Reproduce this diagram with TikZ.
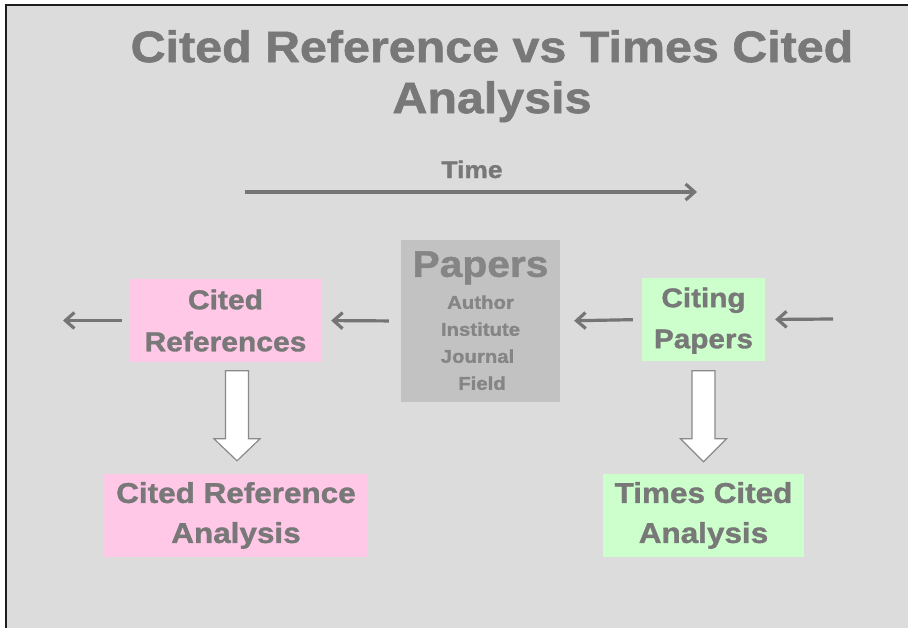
\documentclass[tikz,border=0pt]{standalone}
\usepackage{fontspec}
\setmainfont{Liberation Sans}[FakeStretch=1.1,BoldFeatures={FakeBold=1.3}]
\usetikzlibrary{arrows.meta,calc}
\definecolor{bgc}{HTML}{DCDCDC}
\definecolor{txtc}{HTML}{787878}
\definecolor{paptxt}{HTML}{858585}
\definecolor{papbox}{HTML}{C2C2C2}
\definecolor{pinkc}{HTML}{FFC8E6}
\definecolor{greenc}{HTML}{CCFFCC}
\definecolor{arrc}{HTML}{757575}
\definecolor{framec}{HTML}{1E1E1E}
\begin{document}
\begin{tikzpicture}[x=1pt,y=-1pt,
  txt/.style={text=txtc,inner sep=0pt,anchor=base},
  box/.style={inner sep=0pt,text=txtc,align=center},
  conn/.style={draw=arrc,line width=3.2pt,-{Straight Barb[length=9pt,width=16pt]}},
  blockarr/.style={draw=arrc!85,fill=white,line width=1.2pt,line join=miter}]
\useasboundingbox (0,0) rectangle (908,630);
\fill[white] (0,0) rectangle (908,630);
\fill[bgc] (6,5) rectangle (908,628);
\draw[framec,line width=2pt] (6,628) -- (6,5) -- (908,5);

% title
\node[box,anchor=north,font=\bfseries\fontsize{44}{51}\selectfont] (title) at (492,30)
  {Cited Reference vs Times Cited\\Analysis};
% time
\node[txt,font=\bfseries\fontsize{24}{24}\selectfont] (time) at (472,178) {Time};
\coordinate (tstart) at (245,192);
\coordinate (tend) at (697,192);
\draw[conn] (tstart) -- (tend);

% boxes
\node[box,fill=pinkc,minimum width=191pt,minimum height=83pt,
  font=\bfseries\fontsize{27.3}{42}\selectfont] (citedref) at (225.5,320.5) {Cited\\References};
\node[box,fill=greenc,minimum width=123pt,minimum height=83pt,
  font=\bfseries\fontsize{27}{41}\selectfont] (citing) at (703.5,319.5) {\rule{0pt}{22pt}Citing\\Papers};
\node[box,fill=papbox,minimum width=159pt,minimum height=162pt] (papers) at (480.5,321) {};
\node[txt,text=paptxt,font=\bfseries\fontsize{37}{37}\selectfont] (ptitle) at ($(papers.north)+(0,37)$) {Papers};
\node[txt,text=paptxt,font=\bfseries\fontsize{18.5}{27}\selectfont] (pauthor) at ($(papers.north)+(0,69)$) {Author};
\node[txt,text=paptxt,font=\bfseries\fontsize{18.5}{27}\selectfont] (pinst) at ($(papers.north)+(0,96)$) {Institute};
\node[txt,text=paptxt,font=\bfseries\fontsize{18.5}{27}\selectfont] (pjour) at ($(papers.north)+(-3,123)$) {Journal};
\node[txt,text=paptxt,font=\bfseries\fontsize{18.5}{27}\selectfont] (pfield) at ($(papers.north)+(1.5,150)$) {Field};
\node[box,fill=pinkc,minimum width=264pt,minimum height=83pt,
  font=\bfseries\fontsize{28.6}{40}\selectfont] (cra) at (236,515.5) {Cited Reference\\Analysis};
\node[box,fill=greenc,minimum width=201pt,minimum height=83pt,
  font=\bfseries\fontsize{28.6}{40}\selectfont] (tca) at (703.5,515.5) {Times Cited\\Analysis};

% horizontal connectors
\coordinate (farleft) at (63,320.5);
\coordinate (farright) at (833,319);
\draw[conn,shorten <=12pt,shorten >=10pt] (papers.west) -- (citedref.east);
\draw[conn,shorten <=8pt] (citedref.west) -- (farleft);
\draw[conn,shorten <=9pt,shorten >=14pt] (citing.west) -- (papers.east);
\draw[conn,shorten >=10pt] (farright) -- (citing.east);

% block arrows
\draw[blockarr] ($(cra.north)+(1,-13)$) -- ++(-23,-22) -- ++(11.5,0) -- ++(0,-68)
  -- ++(23,0) -- ++(0,68) -- ++(11.5,0) -- cycle;
\draw[blockarr] ($(tca.north)+(0,-12)$) -- ++(-23,-23) -- ++(11.5,0) -- ++(0,-68)
  -- ++(23,0) -- ++(0,68) -- ++(11.5,0) -- cycle;
\end{tikzpicture}
\end{document}
